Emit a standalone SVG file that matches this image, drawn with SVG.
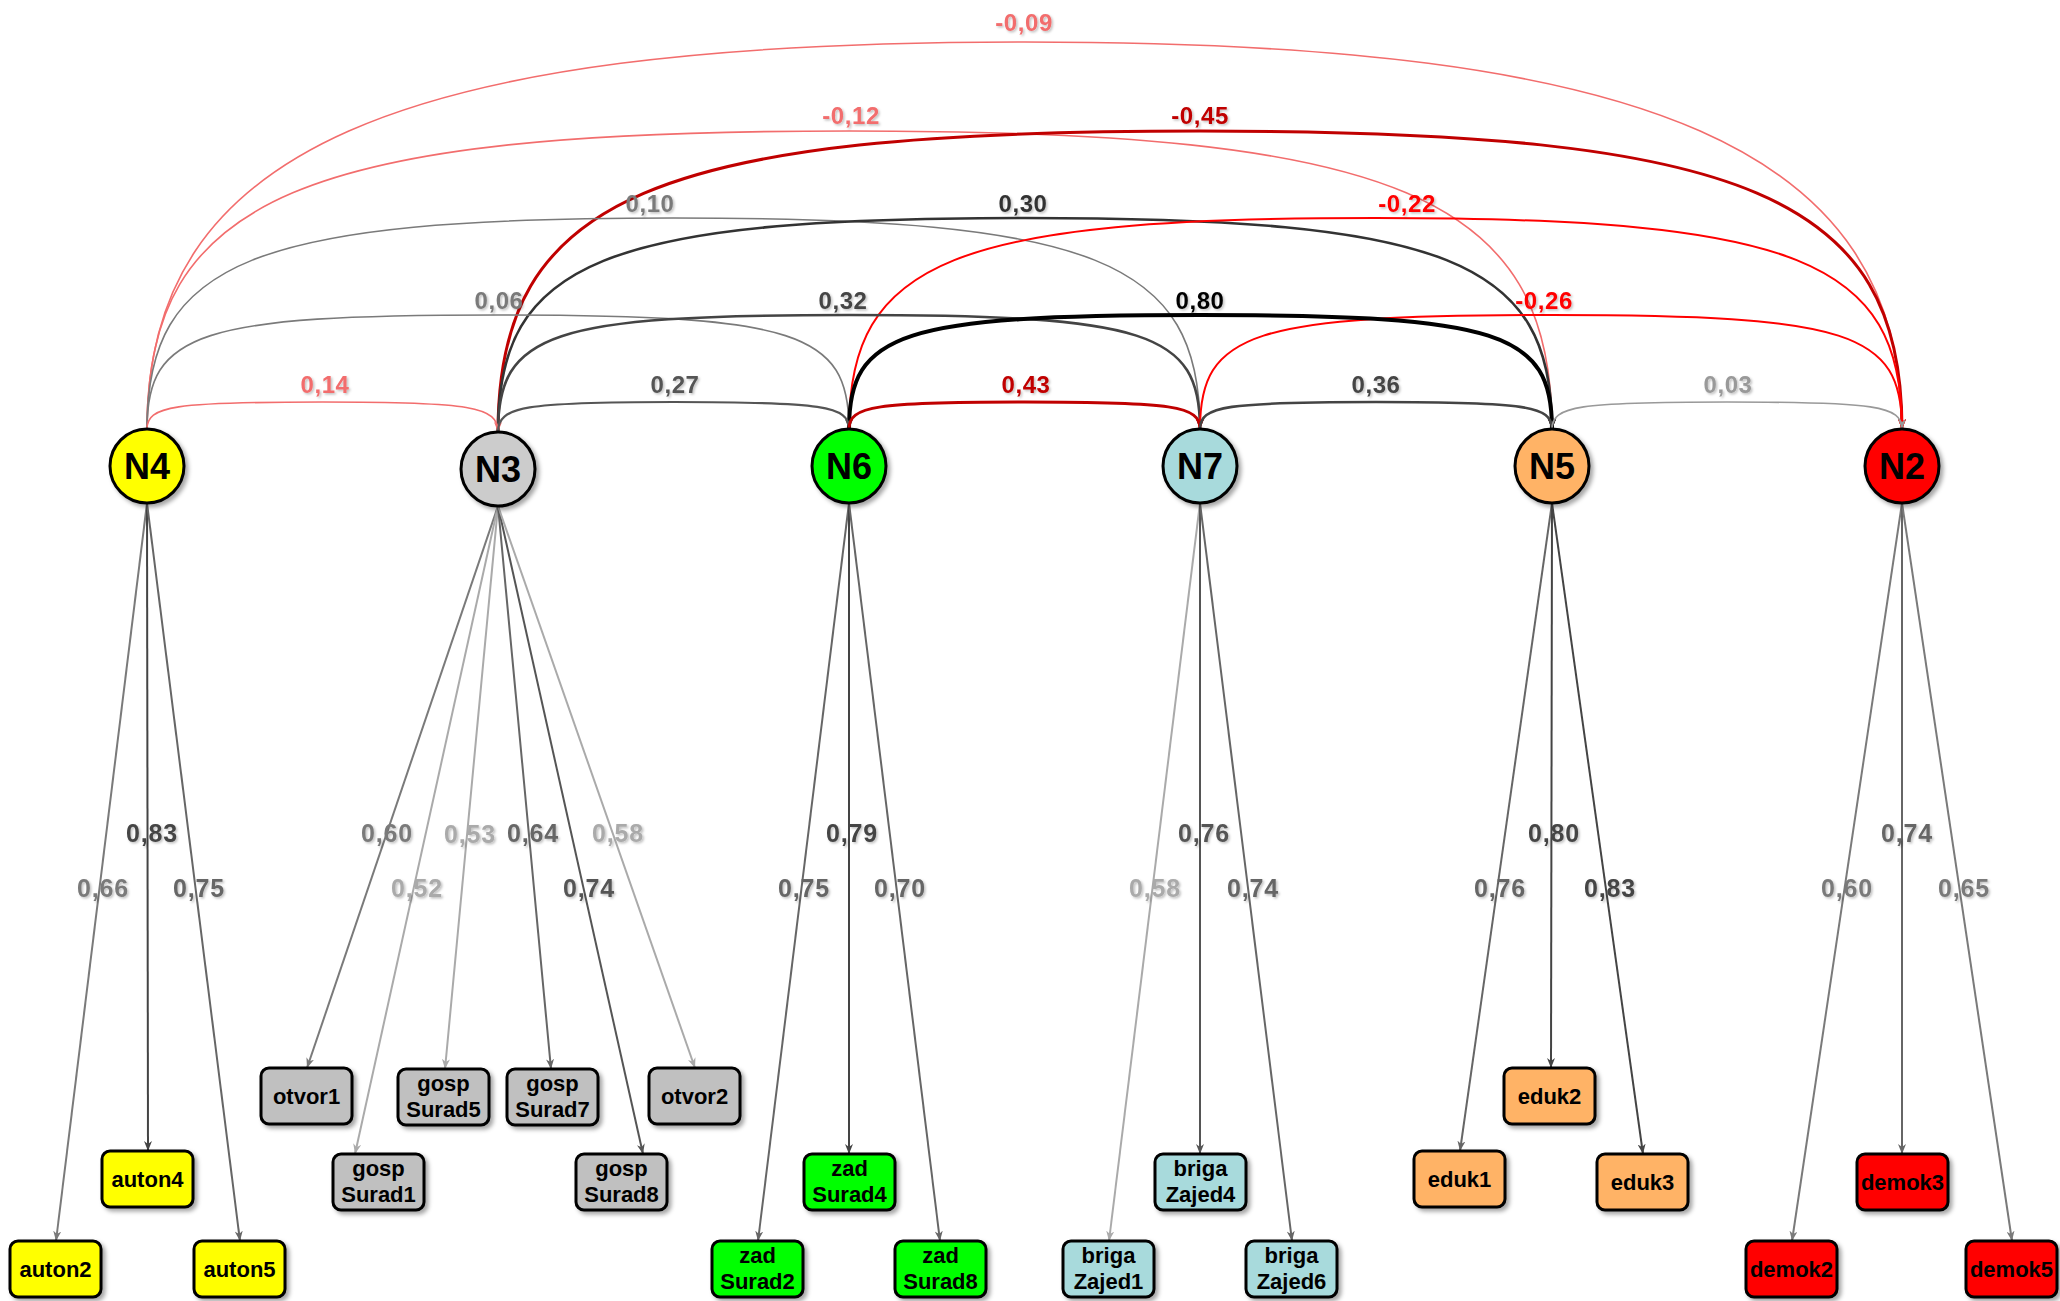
<svg xmlns="http://www.w3.org/2000/svg" width="2060" height="1301" viewBox="0 0 2060 1301">
<style>
.bg{fill:#ffffff}
.arc{fill:none}
.ld{fill:none;stroke-width:2}
.lbl{font-family:"Liberation Sans",Arial,sans-serif;font-weight:bold;font-size:24px;letter-spacing:0.6px;text-anchor:middle}
.llb{font-family:"Liberation Sans",Arial,sans-serif;font-weight:bold;font-size:25px;letter-spacing:0.8px;text-anchor:middle}
.nd{stroke:#000;stroke-width:3}
.ntx{font-family:"Liberation Sans",Arial,sans-serif;font-weight:bold;font-size:36px;text-anchor:middle;fill:#000}
.bx{stroke:#000;stroke-width:3}
.btx{font-family:"Liberation Sans",Arial,sans-serif;font-weight:bold;font-size:22px;text-anchor:middle;fill:#000}
.c-lr{stroke:#f26d6d;fill:#f26d6d}
.c-dr{stroke:#c00000;fill:#c00000}
.c-r{stroke:#ff0000;fill:#ff0000}
.c-k{stroke:#000000;fill:#000000}
.c-3{stroke:#333333;fill:#333333}
.c-4{stroke:#444444;fill:#444444}
.c-5{stroke:#555555;fill:#555555}
.c-6{stroke:#666666;fill:#666666}
.c-7{stroke:#7a7a7a;fill:#7a7a7a}
.c-9{stroke:#999999;fill:#999999}
.c-a{stroke:#aaaaaa;fill:#aaaaaa}
path.arc,path.ld{fill:none}
text.lbl,text.llb{stroke:none}
</style>
<defs>
<filter id="sh" x="-20%" y="-20%" width="150%" height="150%">
<feDropShadow dx="3" dy="3" stdDeviation="2" flood-color="#000" flood-opacity="0.35"/>
</filter>
<filter id="ts" x="-10%" y="-20%" width="130%" height="150%">
<feDropShadow dx="1.5" dy="1.5" stdDeviation="1" flood-color="#000" flood-opacity="0.25"/>
</filter>
<marker id="m-lr" viewBox="0 0 10 8" markerWidth="10" markerHeight="8" refX="10" refY="4" orient="auto" markerUnits="userSpaceOnUse"><path d="M0,0 L10,4 L0,8 L3,4 z" fill="#f26d6d"/></marker>
<marker id="m-dr" viewBox="0 0 10 8" markerWidth="10" markerHeight="8" refX="10" refY="4" orient="auto" markerUnits="userSpaceOnUse"><path d="M0,0 L10,4 L0,8 L3,4 z" fill="#c00000"/></marker>
<marker id="m-r" viewBox="0 0 10 8" markerWidth="10" markerHeight="8" refX="10" refY="4" orient="auto" markerUnits="userSpaceOnUse"><path d="M0,0 L10,4 L0,8 L3,4 z" fill="#ff0000"/></marker>
<marker id="m-k" viewBox="0 0 10 8" markerWidth="11" markerHeight="9" refX="10" refY="4" orient="auto" markerUnits="userSpaceOnUse"><path d="M0,0 L10,4 L0,8 L3,4 z" fill="#000000"/></marker>
<marker id="m-3" viewBox="0 0 10 8" markerWidth="10" markerHeight="8" refX="10" refY="4" orient="auto" markerUnits="userSpaceOnUse"><path d="M0,0 L10,4 L0,8 L3,4 z" fill="#333333"/></marker>
<marker id="m-4" viewBox="0 0 10 8" markerWidth="10" markerHeight="8" refX="10" refY="4" orient="auto" markerUnits="userSpaceOnUse"><path d="M0,0 L10,4 L0,8 L3,4 z" fill="#444444"/></marker>
<marker id="m-5" viewBox="0 0 10 8" markerWidth="10" markerHeight="8" refX="10" refY="4" orient="auto" markerUnits="userSpaceOnUse"><path d="M0,0 L10,4 L0,8 L3,4 z" fill="#555555"/></marker>
<marker id="m-6" viewBox="0 0 10 8" markerWidth="10" markerHeight="8" refX="10" refY="4" orient="auto" markerUnits="userSpaceOnUse"><path d="M0,0 L10,4 L0,8 L3,4 z" fill="#666666"/></marker>
<marker id="m-7" viewBox="0 0 10 8" markerWidth="10" markerHeight="8" refX="10" refY="4" orient="auto" markerUnits="userSpaceOnUse"><path d="M0,0 L10,4 L0,8 L3,4 z" fill="#7a7a7a"/></marker>
<marker id="m-9" viewBox="0 0 10 8" markerWidth="10" markerHeight="8" refX="10" refY="4" orient="auto" markerUnits="userSpaceOnUse"><path d="M0,0 L10,4 L0,8 L3,4 z" fill="#999999"/></marker>
<marker id="m-a" viewBox="0 0 10 8" markerWidth="10" markerHeight="8" refX="10" refY="4" orient="auto" markerUnits="userSpaceOnUse"><path d="M0,0 L10,4 L0,8 L3,4 z" fill="#aaaaaa"/></marker>
</defs>
<rect class="bg" x="0" y="0" width="2060" height="1301"/>

<g id="connectors">
<g id="covariances">
<path class="arc c-lr" stroke-width="1.6" marker-end="url(#m-lr)" d="M147 429 C147 150.4 392.7 42 1024.5 42 C1656.3 42 1902 150.4 1902 429"/>
<path class="arc c-lr" stroke-width="1.6" marker-end="url(#m-lr)" d="M147 429 C147 196.6 301.5 131 849.5 131 C1397.5 131 1552 196.6 1552 429"/>
<path class="arc c-dr" stroke-width="3" marker-end="url(#m-dr)" d="M498 432 C498 197.2 652.4 131 1200 131 C1747.6 131 1902 196.6 1902 429"/>
<path class="arc c-7" stroke-width="1.6" marker-end="url(#m-7)" d="M147 429 C147 260 252.3 218 673.5 218 C1094.7 218 1200 260 1200 429"/>
<path class="arc c-3" stroke-width="2.6" marker-end="url(#m-3)" d="M498 432 C498 261 603.4 218 1025 218 C1446.6 218 1552 260 1552 429"/>
<path class="arc c-r" stroke-width="2" marker-end="url(#m-r)" d="M849 429 C849 260 954.3 218 1375.5 218 C1796.7 218 1902 260 1902 429"/>
<path class="arc c-7" stroke-width="1.6" marker-end="url(#m-7)" d="M147 429 C147 332 199.65 315 498 315 C796.35 315 849 332 849 429"/>
<path class="arc c-4" stroke-width="2.6" marker-end="url(#m-4)" d="M498 432 C498 332.5 550.65 315 849 315 C1147.35 315 1200 332 1200 429"/>
<path class="arc c-r" stroke-width="2" marker-end="url(#m-r)" d="M1200 429 C1200 332 1252.65 315 1551 315 C1849.35 315 1902 332 1902 429"/>
<path class="arc c-k" stroke-width="4" marker-end="url(#m-k)" d="M849 429 C849 332 901.7 315 1200.5 315 C1499.3 315 1552 332 1552 429"/>
<path class="arc c-lr" stroke-width="1.6" marker-end="url(#m-lr)" d="M147 429 C147 406 173.3 402 322.5 402 C471.7 402 498 406.5 498 432"/>
<path class="arc c-5" stroke-width="2.2" marker-end="url(#m-5)" d="M498 432 C498 406.5 524.3 402 673.5 402 C822.7 402 849 406 849 429"/>
<path class="arc c-dr" stroke-width="3" marker-end="url(#m-dr)" d="M849 429 C849 406 875.3 402 1024.5 402 C1173.7 402 1200 406 1200 429"/>
<path class="arc c-4" stroke-width="2.6" marker-end="url(#m-4)" d="M1200 429 C1200 406 1226.4 402 1376 402 C1525.6 402 1552 406 1552 429"/>
<path class="arc c-9" stroke-width="1.6" marker-end="url(#m-9)" d="M1552 429 C1552 406 1578.25 402 1727 402 C1875.75 402 1902 406 1902 429"/>
</g>
<g id="loadings">
<path class="ld c-7" marker-end="url(#m-7)" d="M147 503 L56 1241"/>
<path class="ld c-4" marker-end="url(#m-4)" d="M147 503 L148 1151"/>
<path class="ld c-6" marker-end="url(#m-6)" d="M147 503 L240 1241"/>
<path class="ld c-7" marker-end="url(#m-7)" d="M498 506 L307 1068"/>
<path class="ld c-a" marker-end="url(#m-a)" d="M498 506 L355 1154"/>
<path class="ld c-a" marker-end="url(#m-a)" d="M498 506 L445 1069"/>
<path class="ld c-6" marker-end="url(#m-6)" d="M498 506 L551 1069"/>
<path class="ld c-5" marker-end="url(#m-5)" d="M498 506 L643 1154"/>
<path class="ld c-a" marker-end="url(#m-a)" d="M498 506 L695 1068"/>
<path class="ld c-6" marker-end="url(#m-6)" d="M849 503 L758 1241"/>
<path class="ld c-4" marker-end="url(#m-4)" d="M849 503 L849 1154"/>
<path class="ld c-6" marker-end="url(#m-6)" d="M849 503 L940 1241"/>
<path class="ld c-a" marker-end="url(#m-a)" d="M1200 503 L1109 1241"/>
<path class="ld c-5" marker-end="url(#m-5)" d="M1200 503 L1200 1154"/>
<path class="ld c-6" marker-end="url(#m-6)" d="M1200 503 L1292 1241"/>
<path class="ld c-6" marker-end="url(#m-6)" d="M1552 503 L1460 1151"/>
<path class="ld c-4" marker-end="url(#m-4)" d="M1552 503 L1551 1068"/>
<path class="ld c-4" marker-end="url(#m-4)" d="M1552 503 L1643 1154"/>
<path class="ld c-7" marker-end="url(#m-7)" d="M1902 503 L1792 1241"/>
<path class="ld c-6" marker-end="url(#m-6)" d="M1902 503 L1902 1154"/>
<path class="ld c-7" marker-end="url(#m-7)" d="M1902 503 L2012 1241"/>
</g>
<g id="labels" filter="url(#ts)">
<text class="lbl c-lr" x="1024" y="31">-0,09</text>
<text class="lbl c-lr" x="851" y="124">-0,12</text>
<text class="lbl c-dr" x="1200" y="124">-0,45</text>
<text class="lbl c-7" x="650" y="212">0,10</text>
<text class="lbl c-3" x="1023" y="212">0,30</text>
<text class="lbl c-r" x="1407" y="212">-0,22</text>
<text class="lbl c-7" x="499" y="309">0,06</text>
<text class="lbl c-4" x="843" y="309">0,32</text>
<text class="lbl c-k" x="1200" y="309">0,80</text>
<text class="lbl c-r" x="1544" y="309">-0,26</text>
<text class="lbl c-lr" x="325" y="393">0,14</text>
<text class="lbl c-5" x="675" y="393">0,27</text>
<text class="lbl c-dr" x="1026" y="393">0,43</text>
<text class="lbl c-4" x="1376" y="393">0,36</text>
<text class="lbl c-9" x="1728" y="393">0,03</text>

<text class="llb c-7" x="103" y="897">0,66</text>
<text class="llb c-4" x="152" y="842">0,83</text>
<text class="llb c-6" x="199" y="897">0,75</text>
<text class="llb c-7" x="387" y="842">0,60</text>
<text class="llb c-a" x="417" y="897">0,52</text>
<text class="llb c-a" x="470" y="843">0,53</text>
<text class="llb c-6" x="533" y="842">0,64</text>
<text class="llb c-5" x="589" y="897">0,74</text>
<text class="llb c-a" x="618" y="842">0,58</text>
<text class="llb c-6" x="804" y="897">0,75</text>
<text class="llb c-4" x="852" y="842">0,79</text>
<text class="llb c-6" x="900" y="897">0,70</text>
<text class="llb c-a" x="1155" y="897">0,58</text>
<text class="llb c-5" x="1204" y="842">0,76</text>
<text class="llb c-6" x="1253" y="897">0,74</text>
<text class="llb c-6" x="1500" y="897">0,76</text>
<text class="llb c-4" x="1554" y="842">0,80</text>
<text class="llb c-4" x="1610" y="897">0,83</text>
<text class="llb c-7" x="1847" y="897">0,60</text>
<text class="llb c-6" x="1907" y="842">0,74</text>
<text class="llb c-7" x="1964" y="897">0,65</text>
</g>
</g>

<g id="N4"><circle class="nd" filter="url(#sh)" cx="147" cy="466" r="37" fill="#ffff00"/><text class="ntx" x="147" y="479">N4</text></g>
<g id="N3"><circle class="nd" filter="url(#sh)" cx="498" cy="469" r="37" fill="#cccccc"/><text class="ntx" x="498" y="482">N3</text></g>
<g id="N6"><circle class="nd" filter="url(#sh)" cx="849" cy="466" r="37" fill="#00ff00"/><text class="ntx" x="849" y="479">N6</text></g>
<g id="N7"><circle class="nd" filter="url(#sh)" cx="1200" cy="466" r="37" fill="#a8dadc"/><text class="ntx" x="1200" y="479">N7</text></g>
<g id="N5"><circle class="nd" filter="url(#sh)" cx="1552" cy="466" r="37" fill="#ffb366"/><text class="ntx" x="1552" y="479">N5</text></g>
<g id="N2"><circle class="nd" filter="url(#sh)" cx="1902" cy="466" r="37" fill="#ff0000"/><text class="ntx" x="1902" y="479">N2</text></g>

<g id="auton2"><rect class="bx" filter="url(#sh)" x="10" y="1241" width="91" height="56" rx="8" fill="#ffff00"/><text class="btx" x="55.5" y="1277">auton2</text></g>
<g id="auton4"><rect class="bx" filter="url(#sh)" x="102" y="1151" width="91" height="56" rx="8" fill="#ffff00"/><text class="btx" x="147.5" y="1187">auton4</text></g>
<g id="auton5"><rect class="bx" filter="url(#sh)" x="194" y="1241" width="91" height="56" rx="8" fill="#ffff00"/><text class="btx" x="239.5" y="1277">auton5</text></g>

<g id="otvor1"><rect class="bx" filter="url(#sh)" x="261" y="1068" width="91" height="56" rx="8" fill="#c0c0c0"/><text class="btx" x="306.5" y="1104">otvor1</text></g>
<g id="gospSurad1"><rect class="bx" filter="url(#sh)" x="333" y="1154" width="91" height="56" rx="8" fill="#c0c0c0"/><text class="btx" x="378.5" y="1176">gosp</text><text class="btx" x="378.5" y="1202">Surad1</text></g>
<g id="gospSurad5"><rect class="bx" filter="url(#sh)" x="398" y="1069" width="91" height="56" rx="8" fill="#c0c0c0"/><text class="btx" x="443.5" y="1091">gosp</text><text class="btx" x="443.5" y="1117">Surad5</text></g>
<g id="gospSurad7"><rect class="bx" filter="url(#sh)" x="507" y="1069" width="91" height="56" rx="8" fill="#c0c0c0"/><text class="btx" x="552.5" y="1091">gosp</text><text class="btx" x="552.5" y="1117">Surad7</text></g>
<g id="gospSurad8"><rect class="bx" filter="url(#sh)" x="576" y="1154" width="91" height="56" rx="8" fill="#c0c0c0"/><text class="btx" x="621.5" y="1176">gosp</text><text class="btx" x="621.5" y="1202">Surad8</text></g>
<g id="otvor2"><rect class="bx" filter="url(#sh)" x="649" y="1068" width="91" height="56" rx="8" fill="#c0c0c0"/><text class="btx" x="694.5" y="1104">otvor2</text></g>

<g id="zadSurad2"><rect class="bx" filter="url(#sh)" x="712" y="1241" width="91" height="56" rx="8" fill="#00ff00"/><text class="btx" x="757.5" y="1263">zad</text><text class="btx" x="757.5" y="1289">Surad2</text></g>
<g id="zadSurad4"><rect class="bx" filter="url(#sh)" x="804" y="1154" width="91" height="56" rx="8" fill="#00ff00"/><text class="btx" x="849.5" y="1176">zad</text><text class="btx" x="849.5" y="1202">Surad4</text></g>
<g id="zadSurad8"><rect class="bx" filter="url(#sh)" x="895" y="1241" width="91" height="56" rx="8" fill="#00ff00"/><text class="btx" x="940.5" y="1263">zad</text><text class="btx" x="940.5" y="1289">Surad8</text></g>

<g id="brigaZajed1"><rect class="bx" filter="url(#sh)" x="1063" y="1241" width="91" height="56" rx="8" fill="#a8dadc"/><text class="btx" x="1108.5" y="1263">briga</text><text class="btx" x="1108.5" y="1289">Zajed1</text></g>
<g id="brigaZajed4"><rect class="bx" filter="url(#sh)" x="1155" y="1154" width="91" height="56" rx="8" fill="#a8dadc"/><text class="btx" x="1200.5" y="1176">briga</text><text class="btx" x="1200.5" y="1202">Zajed4</text></g>
<g id="brigaZajed6"><rect class="bx" filter="url(#sh)" x="1246" y="1241" width="91" height="56" rx="8" fill="#a8dadc"/><text class="btx" x="1291.5" y="1263">briga</text><text class="btx" x="1291.5" y="1289">Zajed6</text></g>

<g id="eduk1"><rect class="bx" filter="url(#sh)" x="1414" y="1151" width="91" height="56" rx="8" fill="#ffb366"/><text class="btx" x="1459.5" y="1187">eduk1</text></g>
<g id="eduk2"><rect class="bx" filter="url(#sh)" x="1504" y="1068" width="91" height="56" rx="8" fill="#ffb366"/><text class="btx" x="1549.5" y="1104">eduk2</text></g>
<g id="eduk3"><rect class="bx" filter="url(#sh)" x="1597" y="1154" width="91" height="56" rx="8" fill="#ffb366"/><text class="btx" x="1642.5" y="1190">eduk3</text></g>

<g id="demok2"><rect class="bx" filter="url(#sh)" x="1746" y="1241" width="91" height="56" rx="8" fill="#ff0000"/><text class="btx" x="1791.5" y="1277">demok2</text></g>
<g id="demok3"><rect class="bx" filter="url(#sh)" x="1857" y="1154" width="91" height="56" rx="8" fill="#ff0000"/><text class="btx" x="1902.5" y="1190">demok3</text></g>
<g id="demok5"><rect class="bx" filter="url(#sh)" x="1966" y="1241" width="91" height="56" rx="8" fill="#ff0000"/><text class="btx" x="2011.5" y="1277">demok5</text></g>
</svg>
